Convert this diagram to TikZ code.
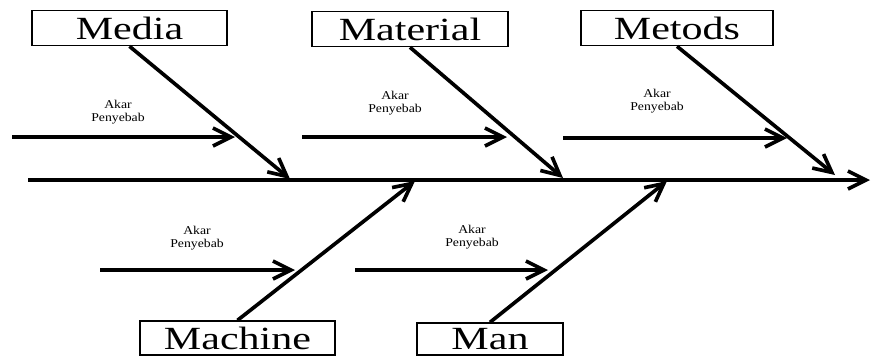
\documentclass[tikz,border=0pt]{standalone}
\usepackage{fontspec}
\setmainfont{Liberation Serif}
\newfontfamily\bigfont[FakeStretch=1.3]{Liberation Serif}
\newfontfamily\smallfont[FakeStretch=1.15]{Liberation Serif}
\usetikzlibrary{arrows.meta}

\tikzset{
  cause/.style={rectangle, draw, line width=1pt, minimum height=0.88cm, inner sep=0pt,
    font=\bigfont\fontsize{23}{24}\selectfont},
  bone/.style={line width=2.6pt, -{Straight Barb[length=4.5mm,width=4.5mm,line width=2.6pt]}},
  root/.style={font=\smallfont\fontsize{8.5}{9.5}\selectfont, align=center, inner sep=0pt},
}

\begin{document}
\begin{tikzpicture}[x=0.025cm, y=-0.025cm]
\useasboundingbox (0,0) rectangle (872,358);

% kotak penyebab atas
\node[cause, minimum width=4.875cm] (media) at (129.5,28) {Media};
\node[cause, minimum width=4.9cm] (material) at (410,29) {Material};
\node[cause, minimum width=4.8cm] (metods) at (677,28) {Metods};

% kotak penyebab bawah
\node[cause, minimum width=4.875cm, minimum height=0.85cm] (machine) at (237.5,338) {Machine};
\node[cause, minimum width=3.65cm, minimum height=0.8cm] (man) at (490,339) {Man};

% tulang utama
\coordinate (head) at (870,180);
\coordinate (tail) at (28,180);
\draw[bone] (tail) -- (head);

% titik pada tulang utama
\coordinate (s1) at (290,179);
\coordinate (s2) at (563,178);
\coordinate (s3) at (835,175);
\coordinate (s4) at (415,181);
\coordinate (s5) at (667,181);

\draw[bone] (media.south) -- (s1);
\draw[bone] (material.south) -- (s2);
\draw[bone] (metods.south) -- (s3);
\draw[bone] (machine.north) -- (s4);
\draw[bone] (man.north) -- (s5);

% akar penyebab
\node[root] (akar1) at (118,112) {Akar\\Penyebab};
\node[root] (akar2) at (395,103) {Akar\\Penyebab};
\node[root] (akar3) at (657,101) {Akar\\Penyebab};
\node[root] (akar4) at (197,238) {Akar\\Penyebab};
\node[root] (akar5) at (472,237) {Akar\\Penyebab};

\coordinate (r1a) at (12,137);  \coordinate (r1b) at (235,137);
\coordinate (r2a) at (302,137); \coordinate (r2b) at (507,137);
\coordinate (r3a) at (563,138); \coordinate (r3b) at (787,138);
\coordinate (r4a) at (100,270); \coordinate (r4b) at (295,270);
\coordinate (r5a) at (355,270); \coordinate (r5b) at (548,270);

\draw[bone] (r1a) -- (r1b);
\draw[bone] (r2a) -- (r2b);
\draw[bone] (r3a) -- (r3b);
\draw[bone] (r4a) -- (r4b);
\draw[bone] (r5a) -- (r5b);

\end{tikzpicture}
\end{document}
